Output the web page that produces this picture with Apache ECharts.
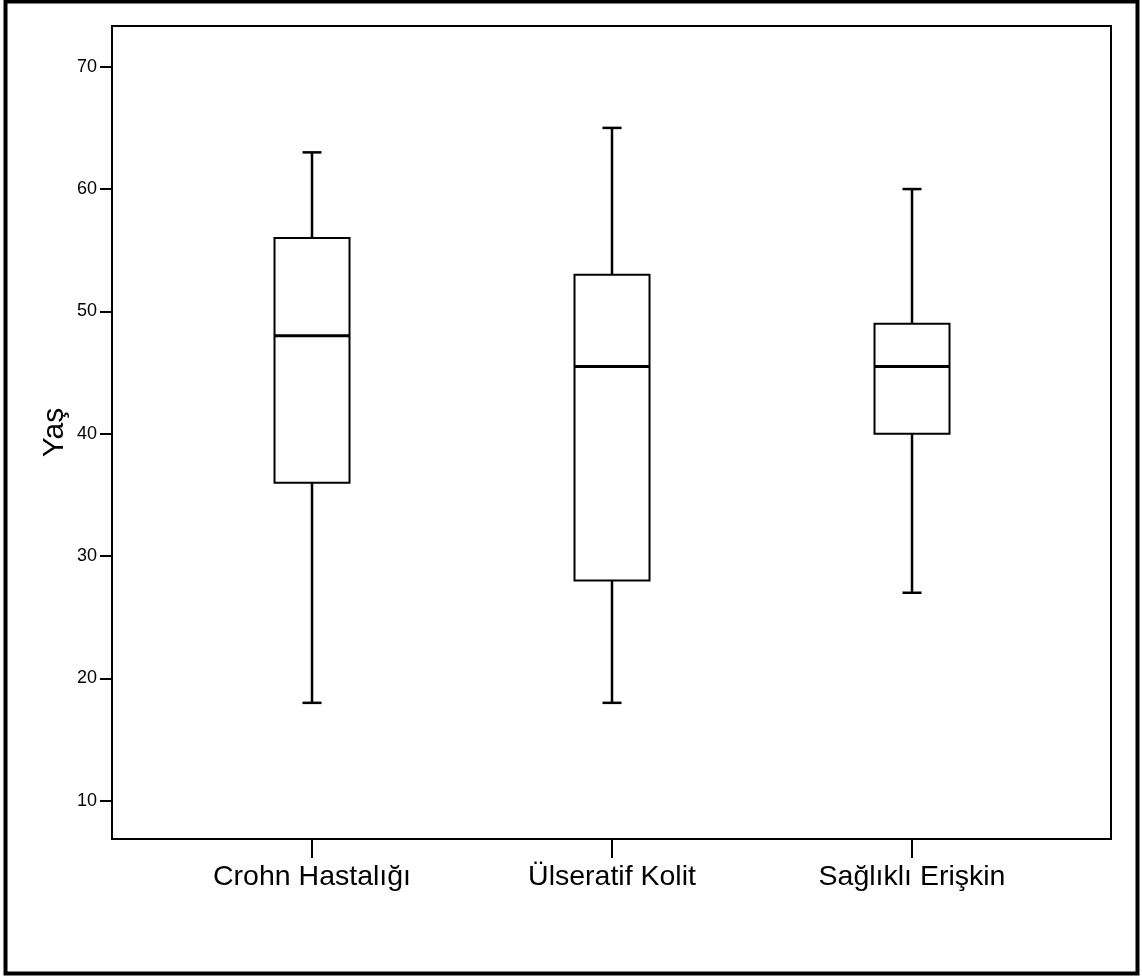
<!DOCTYPE html>
<html>
<head>
<meta charset="utf-8">
<script src="https://cdn.jsdelivr.net/npm/echarts@6/dist/echarts.min.js"></script>
<style>
html,body{margin:0;padding:0;background:#fff;}
#chart{width:1142px;height:978px;}
</style>
</head>
<body>
<div id="chart"></div>
<script>
// Categories and boxplot statistics
const categories = ['Crohn Hastalığı', 'Ülseratif Kolit', 'Sağlıklı Erişkin'];
const whiskerLow  = [18, 18, 27];
const q1          = [36, 28, 40];
const medians     = [48, 45.5, 45.5];
const q3          = [56, 53, 49];
const whiskerHigh = [63, 65, 60];
const yTicks = [10, 20, 30, 40, 50, 60, 70];
const xTicks = [0, 1, 2];

const boxData = categories.map((c, i) => [i, whiskerLow[i], q1[i], medians[i], q3[i], whiskerHigh[i]]);

const chart = echarts.init(document.getElementById('chart'), null, {renderer: 'canvas'});
const FONT = 'Liberation Sans, Arial, sans-serif';

chart.setOption({
  animation: false,
  backgroundColor: '#fff',
  graphic: [{
    type: 'rect',
    shape: {x: 5.5, y: 1.5, width: 1132, height: 972},
    style: {fill: 'none', stroke: '#000', lineWidth: 4},
    silent: true,
    z: 100
  }],
  grid: {
    left: 112, right: 31, top: 26, bottom: 139,
    show: true, borderColor: '#000', borderWidth: 2, backgroundColor: 'transparent'
  },
  xAxis: {
    type: 'value',
    min: -0.6667, max: 2.6633,
    splitLine: {show: false},
    axisLine: {show: true, onZero: false, lineStyle: {color: '#000', width: 2}},
    axisTick: {show: true, customValues: xTicks, length: 19, lineStyle: {color: '#000', width: 2}},
    axisLabel: {
      customValues: xTicks,
      formatter: v => categories[Math.round(v)],
      color: '#000', fontFamily: FONT, fontSize: 28.5, margin: 24
    }
  },
  yAxis: {
    type: 'value',
    min: 6.87, max: 73.33,
    name: 'Yaş',
    nameLocation: 'middle',
    nameGap: 42,
    nameRotate: 90,
    nameMoveOverlap: false,
    nameTextStyle: {color: '#000', fontFamily: FONT, fontSize: 30},
    splitLine: {show: false},
    axisLine: {show: true, onZero: false, lineStyle: {color: '#000', width: 2}},
    axisTick: {show: true, customValues: yTicks, length: 12, lineStyle: {color: '#000', width: 2}},
    axisLabel: {
      customValues: yTicks,
      color: '#000', fontFamily: FONT, fontSize: 18, margin: 15
    }
  },
  series: [{
    type: 'custom',
    data: boxData,
    encode: {x: 0, y: [1, 2, 3, 4, 5]},
    renderItem: function (params, api) {
      const x = api.value(0);
      const pLow = api.coord([x, api.value(1)]);
      const pQ1 = api.coord([x, api.value(2)]);
      const pMed = api.coord([x, api.value(3)]);
      const pQ3 = api.coord([x, api.value(4)]);
      const pHigh = api.coord([x, api.value(5)]);
      const cx = pLow[0];
      const halfBox = 37.5;
      const halfCap = 9.5;
      const line = {stroke: '#000', lineWidth: 2.5};
      return {
        type: 'group',
        children: [
          {type: 'line', shape: {x1: cx, y1: pQ3[1], x2: cx, y2: pHigh[1]}, style: line},
          {type: 'line', shape: {x1: cx, y1: pQ1[1], x2: cx, y2: pLow[1]}, style: line},
          {type: 'line', shape: {x1: cx - halfCap, y1: pHigh[1], x2: cx + halfCap, y2: pHigh[1]}, style: line},
          {type: 'line', shape: {x1: cx - halfCap, y1: pLow[1], x2: cx + halfCap, y2: pLow[1]}, style: line},
          {type: 'rect', shape: {x: cx - halfBox, y: pQ3[1], width: 2 * halfBox, height: pQ1[1] - pQ3[1]},
           style: {fill: '#fff', stroke: '#000', lineWidth: 2}},
          {type: 'line', shape: {x1: cx - halfBox, y1: pMed[1], x2: cx + halfBox, y2: pMed[1]},
           style: {stroke: '#000', lineWidth: 3}}
        ]
      };
    }
  }]
});
</script>
</body>
</html>
